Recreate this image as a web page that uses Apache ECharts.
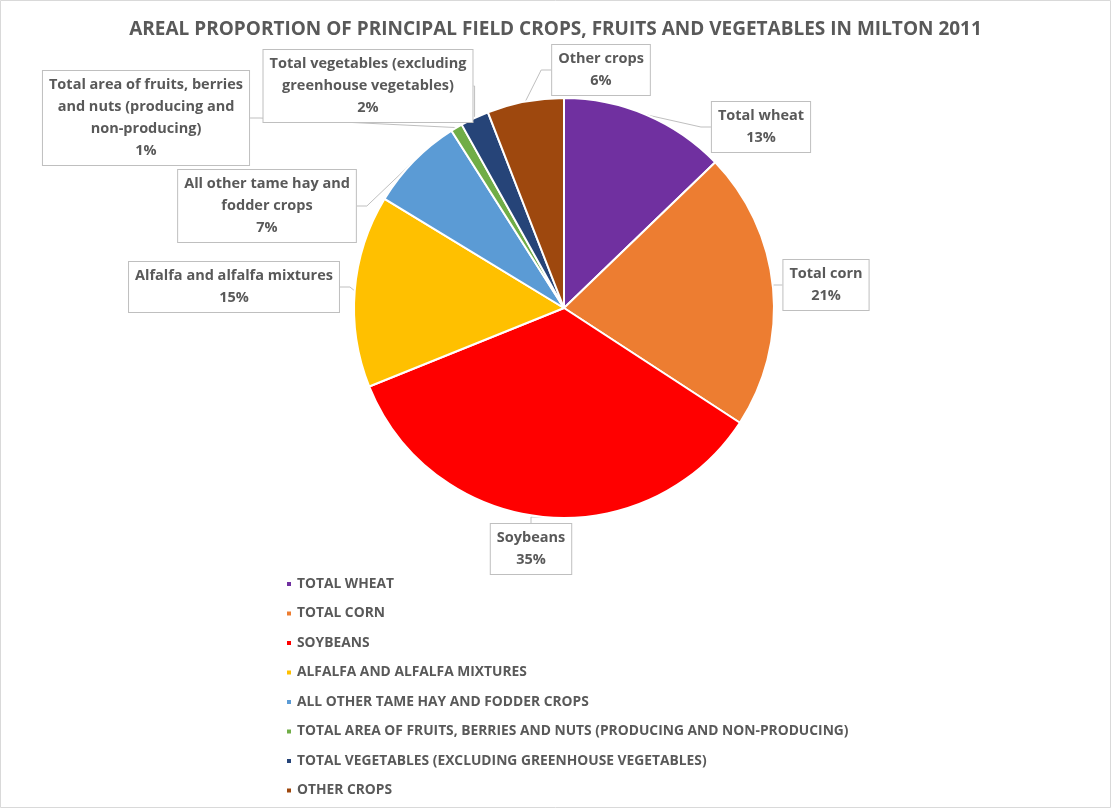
<!DOCTYPE html>
<html><head><meta charset="utf-8">
<script src="https://cdn.jsdelivr.net/npm/echarts@6/dist/echarts.min.js"></script>
<style>html,body{margin:0;padding:0;background:#fff}#c{width:1111px;height:808px}</style>
</head><body><div id="c"></div>
<script>
var categories = ['Total wheat','Total corn','Soybeans','Alfalfa and alfalfa mixtures','All other tame hay and fodder crops','Total area of fruits, berries and nuts (producing and non-producing)','Total vegetables (excluding greenhouse vegetables)','Other crops'];
var values = [12.8, 21.4, 34.7, 14.8, 7.3, 0.9, 2.2, 5.9];
var labelTexts = ['Total wheat','Total corn','Soybeans','Alfalfa and alfalfa mixtures','All other tame hay and\nfodder crops','Total area of fruits, berries\nand nuts (producing and\nnon-producing)','Total vegetables (excluding\ngreenhouse vegetables)','Other crops'];
var colors = ['#7030a0','#ed7d31','#ff0000','#ffc000','#5b9bd5','#70ad47','#264478','#9e480e'];
var labelPos = [[761,127],[826,285],[531,549],[234,287],[267,206],[146,118],[368,86],[601,70]];

var chart = echarts.init(document.getElementById('c'));
var FONT = 'Open Sans';
chart.setOption({
  animation:false,
  backgroundColor:'#fff',
  title:{text:'AREAL PROPORTION OF PRINCIPAL FIELD CROPS, FRUITS AND VEGETABLES IN MILTON 2011',left:'center',top:15,
    textStyle:{fontFamily:FONT,fontSize:19,fontWeight:'bold',color:'#595959'}},
  graphic:[{type:'rect',shape:{x:0.5,y:0.5,width:1110,height:807},style:{fill:'none',stroke:'#d9d9d9',lineWidth:1},silent:true}],
  legend:{orient:'vertical',left:280,top:571,itemWidth:6,itemHeight:6,itemGap:13.5,icon:'rect',
    textStyle:{fontFamily:FONT,fontSize:13.8,lineHeight:16,fontWeight:'bold',color:'#595959'},
    formatter:function(n){return n.toUpperCase();}},
  series:[{
    type:'pie',center:[564,308],radius:210,startAngle:90,clockwise:true,
    itemStyle:{borderColor:'#fff',borderWidth:2},
    data:categories.map(function(c,i){return {name:c,value:values[i],itemStyle:{color:colors[i]}};}),
    label:{show:true,position:'outside',
      formatter:function(p){return labelTexts[p.dataIndex]+'\n'+Math.round(p.percent)+'%';},
      fontFamily:FONT,fontSize:14.5,fontWeight:'bold',color:'#595959',lineHeight:22,align:'center',
      backgroundColor:'#fff',borderColor:'#bfbfbf',borderWidth:1,padding:[3,6]},
    labelLine:{show:true,length:10,length2:10,lineStyle:{color:'#bfbfbf',width:1}},
    labelLayout:function(p){var pos=labelPos[p.dataIndex];return {x:pos[0],y:pos[1],align:'center',verticalAlign:'middle'};}
  }]
});
</script></body></html>
